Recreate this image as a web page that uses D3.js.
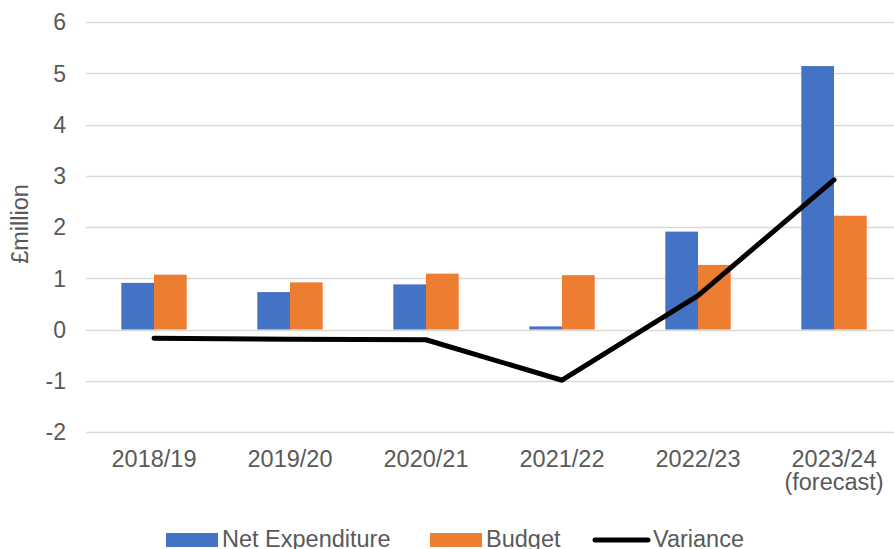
<!DOCTYPE html>
<html>
<head>
<meta charset="utf-8">
<script src="https://cdn.jsdelivr.net/npm/d3@7"></script>
<style>
    body { margin: 0; background: #ffffff; }
    #chart svg { display: block; overflow: hidden; }
    .tickText { font-family: "Liberation Sans", Arial, sans-serif; fill: #595959; }
</style>
</head>
<body>
<div id="chart"></div>
<script>
// data (£ million)
var years = ["2018/19", "2019/20", "2020/21", "2021/22", "2022/23", "2023/24\n(forecast)"];
var netExpenditure = [0.91, 0.73, 0.88, 0.06, 1.91, 5.14];
var budget = [1.07, 0.92, 1.09, 1.06, 1.26, 2.22];
var variance = [-0.17, -0.19, -0.20, -0.99, 0.66, 2.92];
var yTicks = [-2, -1, 0, 1, 2, 3, 4, 5, 6];
var seriesNames = ["Net Expenditure", "Budget", "Variance"];
var seriesColors = ["#4472C4", "#ED7D31", "#000000"];

/**
 * Draws the whole combo chart (grouped bars + variance line)
 */
function drawChart(){
    var width = 894, height = 549;
    var margin = {top: 22, left: 86, bottom: 117};

    var svg = d3.select("#chart").append("svg")
        .attr("width", width)
        .attr("height", height);

    //plot runs a little past the right edge of the window, like the reference
    var x = d3.scaleBand()
        .domain(years)
        .range([margin.left, 902]);

    var y = d3.scaleLinear()
        .domain([-2, 6])
        .range([height - margin.bottom, margin.top]);

    // bar pair sits centred in each band, Excel gap width ~219%
    var barWidth = x.bandwidth() / 4.16;
    var xInner = d3.scaleBand()
        .domain([0, 1])
        .range([x.bandwidth() / 2 - barWidth, x.bandwidth() / 2 + barWidth]);

    //gridlines
    svg.append("g").selectAll("line")
        .data(yTicks)
        .enter().append("line")
        .attr("x1", margin.left)
        .attr("x2", 902)
        .attr("y1", function(d){ return Math.round(y(d)) + 0.5; })
        .attr("y2", function(d){ return Math.round(y(d)) + 0.5; })
        .attr("stroke", "#D9D9D9")
        .attr("stroke-width", 1.3);

    //y tick labels
    svg.append("g").selectAll("text")
        .data(yTicks)
        .enter().append("text")
        .attr("class", "tickText")
        .attr("x", 66)
        .attr("y", function(d){ return y(d); })
        .attr("dy", "0.36em")
        .style("text-anchor", "end")
        .style("font-size", "23px")
        .text(function(d){ return d; });

    //y axis title
    svg.append("text")
        .attr("class", "tickText")
        .attr("transform", "translate(28," + 224 + ") rotate(-90)")
        .style("text-anchor", "middle")
        .style("font-size", "23.5px")
        .text("£million");

    //bars
    var barSeries = [netExpenditure, budget];
    barSeries.forEach(function(values, s){
        svg.append("g").selectAll("rect")
            .data(values)
            .enter().append("rect")
            .attr("x", function(d, i){ return x(years[i]) + xInner(s); })
            .attr("width", xInner.bandwidth())
            .attr("y", function(d){ return y(Math.max(0, d)); })
            .attr("height", function(d){ return Math.abs(y(d) - y(0)); })
            .attr("fill", seriesColors[s]);
    });

    //variance line
    var line = d3.line()
        .x(function(d, i){ return x(years[i]) + x.bandwidth() / 2; })
        .y(function(d){ return y(d); });

    svg.append("path")
        .datum(variance)
        .attr("d", line)
        .attr("fill", "none")
        .attr("stroke", seriesColors[2])
        .attr("stroke-width", 5)
        .attr("stroke-linecap", "round")
        .attr("stroke-linejoin", "round");

    //x labels, some have two lines
    var xLabels = svg.append("g").selectAll("text")
        .data(years)
        .enter().append("text")
        .attr("class", "tickText")
        .attr("x", function(d){ return x(d) + x.bandwidth() / 2; })
        .attr("y", 467)
        .style("text-anchor", "middle")
        .style("font-size", "23.5px");
    xLabels.each(function(d){
        var t = d3.select(this);
        d.split("\n").forEach(function(part, k){
            t.append("tspan")
                .attr("x", t.attr("x"))
                .attr("dy", k == 0 ? 0 : 23)
                .text(part);
        });
    });

    //legend
    var legendX = [166, 430, 593];
    var legend = svg.append("g");
    seriesNames.forEach(function(name, i){
        if (i < 2){
            legend.append("rect")
                .attr("x", legendX[i])
                .attr("y", 533)
                .attr("width", 52)
                .attr("height", 14)
                .attr("fill", seriesColors[i]);
        }
        else {
            legend.append("line")
                .attr("x1", legendX[i] + 2)
                .attr("x2", legendX[i] + 55)
                .attr("y1", 540)
                .attr("y2", 540)
                .attr("stroke", seriesColors[i])
                .attr("stroke-width", 5)
                .attr("stroke-linecap", "round");
        }
        legend.append("text")
            .attr("class", "tickText")
            .attr("x", legendX[i] + (i < 2 ? 56 : 60))
            .attr("y", 547)
            .style("font-size", "23.5px")
            .text(name);
    });
}

drawChart();
</script>
</body>
</html>
